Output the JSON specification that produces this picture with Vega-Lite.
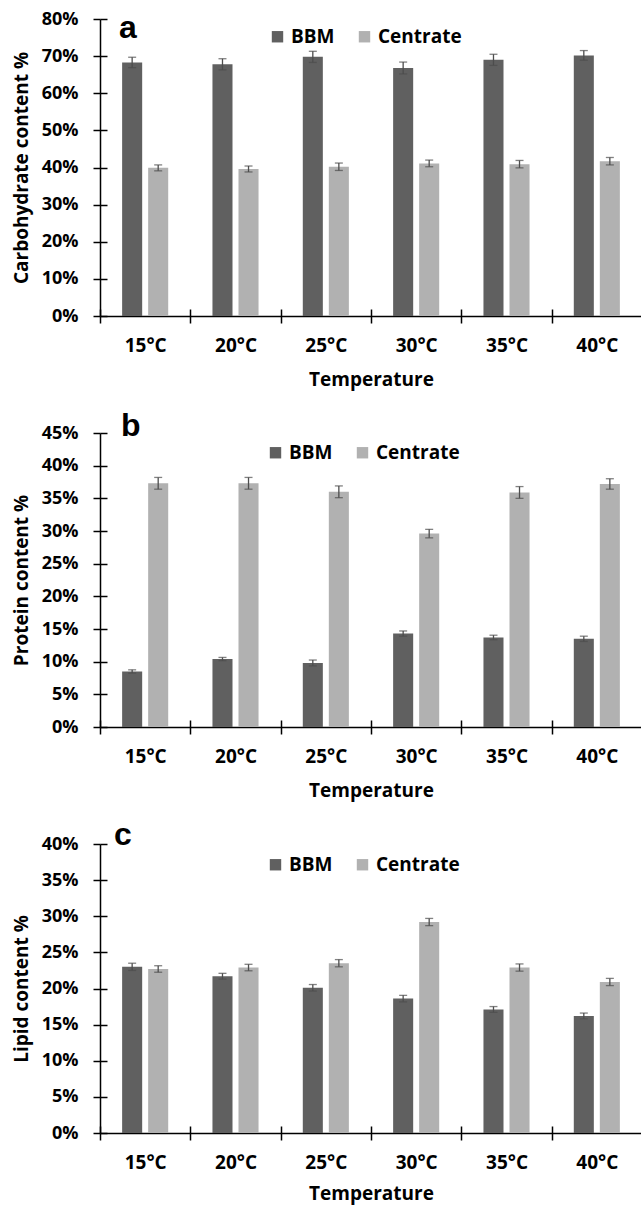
{
  "$schema": "https://vega.github.io/schema/vega-lite/v6.json",
  "padding": {"left": 12, "top": 10, "right": 0, "bottom": 6},
  "bounds": "flush",
  "spacing": 117,
  "config": {
    "view": {"stroke": null},
    "font": "Open Sans",
    "axis": {
      "grid": false,
      "domainColor": "black",
      "domainWidth": 1.5,
      "tickColor": "black",
      "tickWidth": 1.5,
      "tickSize": 7,
      "labelFont": "Open Sans",
      "labelFontWeight": "bold",
      "labelColor": "black",
      "titleFont": "Open Sans",
      "titleFontWeight": "bold",
      "titleColor": "black",
      "titleFontSize": 19
    },
    "axisY": {"labelFontSize": 18, "labelPadding": 15, "titlePadding": 10},
    "axisX": {"labelFontSize": 19, "labelPadding": 13, "titlePadding": 15, "labelAngle": 0},
    "legend": {
      "orient": "none",
      "direction": "horizontal",
      "symbolType": "square",
      "symbolSize": 130,
      "symbolStrokeWidth": 0,
      "labelFont": "Open Sans",
      "labelFontSize": 19,
      "labelFontWeight": "bold",
      "labelColor": "black",
      "columnPadding": 20,
      "labelOffset": 4,
      "padding": 0
    },
    "title": {
      "font": "Liberation Sans",
      "fontSize": 32,
      "fontWeight": "bold",
      "color": "black",
      "anchor": "start",
      "frame": "group",
      "baseline": "alphabetic",
      "offset": 0
    }
  },
  "resolve": {"scale": {"color": "independent"}, "legend": {"color": "independent"}},
  "datasets": {
    "carb": [
      {"temp": "15°C", "medium": "BBM", "value": 68.3, "lo": 66.9, "hi": 69.7},
      {"temp": "15°C", "medium": "Centrate", "value": 39.9, "lo": 39.1, "hi": 40.7},
      {"temp": "20°C", "medium": "BBM", "value": 67.8, "lo": 66.3, "hi": 69.3},
      {"temp": "20°C", "medium": "Centrate", "value": 39.6, "lo": 38.8, "hi": 40.4},
      {"temp": "25°C", "medium": "BBM", "value": 69.8, "lo": 68.3, "hi": 71.3},
      {"temp": "25°C", "medium": "Centrate", "value": 40.2, "lo": 39.2, "hi": 41.2},
      {"temp": "30°C", "medium": "BBM", "value": 66.8, "lo": 65.2, "hi": 68.4},
      {"temp": "30°C", "medium": "Centrate", "value": 41.1, "lo": 40.2, "hi": 42.0},
      {"temp": "35°C", "medium": "BBM", "value": 69.0, "lo": 67.5, "hi": 70.5},
      {"temp": "35°C", "medium": "Centrate", "value": 40.9, "lo": 39.9, "hi": 41.9},
      {"temp": "40°C", "medium": "BBM", "value": 70.2, "lo": 68.9, "hi": 71.5},
      {"temp": "40°C", "medium": "Centrate", "value": 41.7, "lo": 40.7, "hi": 42.7}
    ],
    "prot": [
      {"temp": "15°C", "medium": "BBM", "value": 8.5, "lo": 8.25, "hi": 8.75},
      {"temp": "15°C", "medium": "Centrate", "value": 37.3, "lo": 36.4, "hi": 38.2},
      {"temp": "20°C", "medium": "BBM", "value": 10.4, "lo": 10.15, "hi": 10.65},
      {"temp": "20°C", "medium": "Centrate", "value": 37.3, "lo": 36.4, "hi": 38.2},
      {"temp": "25°C", "medium": "BBM", "value": 9.8, "lo": 9.35, "hi": 10.25},
      {"temp": "25°C", "medium": "Centrate", "value": 36.0, "lo": 35.1, "hi": 36.9},
      {"temp": "30°C", "medium": "BBM", "value": 14.3, "lo": 13.9, "hi": 14.7},
      {"temp": "30°C", "medium": "Centrate", "value": 29.6, "lo": 28.95, "hi": 30.25},
      {"temp": "35°C", "medium": "BBM", "value": 13.7, "lo": 13.35, "hi": 14.05},
      {"temp": "35°C", "medium": "Centrate", "value": 35.9, "lo": 35.0, "hi": 36.8},
      {"temp": "40°C", "medium": "BBM", "value": 13.5, "lo": 13.1, "hi": 13.9},
      {"temp": "40°C", "medium": "Centrate", "value": 37.2, "lo": 36.4, "hi": 38.0}
    ],
    "lipid": [
      {"temp": "15°C", "medium": "BBM", "value": 23.0, "lo": 22.5, "hi": 23.5},
      {"temp": "15°C", "medium": "Centrate", "value": 22.7, "lo": 22.25, "hi": 23.15},
      {"temp": "20°C", "medium": "BBM", "value": 21.7, "lo": 21.3, "hi": 22.1},
      {"temp": "20°C", "medium": "Centrate", "value": 22.9, "lo": 22.45, "hi": 23.35},
      {"temp": "25°C", "medium": "BBM", "value": 20.1, "lo": 19.65, "hi": 20.55},
      {"temp": "25°C", "medium": "Centrate", "value": 23.5, "lo": 23.0, "hi": 24.0},
      {"temp": "30°C", "medium": "BBM", "value": 18.6, "lo": 18.15, "hi": 19.05},
      {"temp": "30°C", "medium": "Centrate", "value": 29.2, "lo": 28.7, "hi": 29.7},
      {"temp": "35°C", "medium": "BBM", "value": 17.1, "lo": 16.7, "hi": 17.5},
      {"temp": "35°C", "medium": "Centrate", "value": 22.9, "lo": 22.4, "hi": 23.4},
      {"temp": "40°C", "medium": "BBM", "value": 16.2, "lo": 15.8, "hi": 16.6},
      {"temp": "40°C", "medium": "Centrate", "value": 20.9, "lo": 20.4, "hi": 21.4}
    ]
  },
  "vconcat": [
    {
      "width": 542,
      "height": 297,
      "data": {"name": "carb"},
      "title": {"text": "a", "dx": 19, "dy": 39},
      "encoding": {
        "xOffset": {"field": "medium", "type": "nominal", "sort": ["BBM", "Centrate"], "scale": {"paddingInner": 0.23, "paddingOuter": 0.85}}
      },
      "layer": [
        {
          "mark": {"type": "bar"},
          "encoding": {
            "x": {"field": "temp", "type": "nominal", "sort": ["15°C", "20°C", "25°C", "30°C", "35°C", "40°C"], "scale": {"paddingInner": 0, "paddingOuter": 0}, "axis": {"orient": "bottom", "tickBand": "extent", "title": "Temperature"}},
            "y": {"field": "value", "type": "quantitative", "scale": {"domain": [0, 80]}, "axis": {"orient": "left", "values": [0, 10, 20, 30, 40, 50, 60, 70, 80], "labelExpr": "datum.value + '%'", "title": "Carbohydrate content %"}},
            "color": {"field": "medium", "type": "nominal", "scale": {"domain": ["BBM", "Centrate"], "range": ["#606060", "#b1b1b1"]}, "legend": {"title": null, "legendX": 168, "legendY": 8}}
          }
        },
        {
          "mark": {"type": "rule", "color": "#4d4d4d", "strokeWidth": 1.3},
          "encoding": {
            "x": {"field": "temp", "type": "nominal", "sort": ["15°C", "20°C", "25°C", "30°C", "35°C", "40°C"], "axis": {"orient": "bottom", "offset": -7, "tickBand": "extent", "labels": false, "domain": false, "title": null}},
            "y": {"field": "lo", "type": "quantitative", "axis": {"orient": "left", "offset": -7, "values": [0, 10, 20, 30, 40, 50, 60, 70, 80], "labels": false, "domain": false, "title": null}},
            "y2": {"field": "hi"}
          }
        },
        {
          "mark": {"type": "tick", "color": "#4d4d4d", "size": 8, "thickness": 1.3},
          "encoding": {
            "x": {"field": "temp", "type": "nominal", "sort": ["15°C", "20°C", "25°C", "30°C", "35°C", "40°C"], "axis": null},
            "y": {"field": "lo", "type": "quantitative", "axis": null}
          }
        },
        {
          "mark": {"type": "tick", "color": "#4d4d4d", "size": 8, "thickness": 1.3},
          "encoding": {
            "x": {"field": "temp", "type": "nominal", "sort": ["15°C", "20°C", "25°C", "30°C", "35°C", "40°C"], "axis": null},
            "y": {"field": "hi", "type": "quantitative", "axis": null}
          }
        }
      ],
      "resolve": {"axis": {"x": "independent", "y": "independent"}}
    },
    {
      "width": 542,
      "height": 294,
      "data": {"name": "prot"},
      "title": {"text": "b", "dx": 21, "dy": 23},
      "encoding": {
        "xOffset": {"field": "medium", "type": "nominal", "sort": ["BBM", "Centrate"], "scale": {"paddingInner": 0.23, "paddingOuter": 0.85}}
      },
      "layer": [
        {
          "mark": {"type": "bar"},
          "encoding": {
            "x": {"field": "temp", "type": "nominal", "sort": ["15°C", "20°C", "25°C", "30°C", "35°C", "40°C"], "scale": {"paddingInner": 0, "paddingOuter": 0}, "axis": {"orient": "bottom", "tickBand": "extent", "title": "Temperature"}},
            "y": {"field": "value", "type": "quantitative", "scale": {"domain": [0, 45]}, "axis": {"orient": "left", "values": [0, 5, 10, 15, 20, 25, 30, 35, 40, 45], "labelExpr": "datum.value + '%'", "title": "Protein content %"}},
            "color": {"field": "medium", "type": "nominal", "scale": {"domain": ["BBM", "Centrate"], "range": ["#606060", "#b1b1b1"]}, "legend": {"title": null, "legendX": 166, "legendY": 10}}
          }
        },
        {
          "mark": {"type": "rule", "color": "#4d4d4d", "strokeWidth": 1.3},
          "encoding": {
            "x": {"field": "temp", "type": "nominal", "sort": ["15°C", "20°C", "25°C", "30°C", "35°C", "40°C"], "axis": {"orient": "bottom", "offset": -7, "tickBand": "extent", "labels": false, "domain": false, "title": null}},
            "y": {"field": "lo", "type": "quantitative", "axis": {"orient": "left", "offset": -7, "values": [0, 5, 10, 15, 20, 25, 30, 35, 40, 45], "labels": false, "domain": false, "title": null}},
            "y2": {"field": "hi"}
          }
        },
        {
          "mark": {"type": "tick", "color": "#4d4d4d", "size": 8, "thickness": 1.3},
          "encoding": {
            "x": {"field": "temp", "type": "nominal", "sort": ["15°C", "20°C", "25°C", "30°C", "35°C", "40°C"], "axis": null},
            "y": {"field": "lo", "type": "quantitative", "axis": null}
          }
        },
        {
          "mark": {"type": "tick", "color": "#4d4d4d", "size": 8, "thickness": 1.3},
          "encoding": {
            "x": {"field": "temp", "type": "nominal", "sort": ["15°C", "20°C", "25°C", "30°C", "35°C", "40°C"], "axis": null},
            "y": {"field": "hi", "type": "quantitative", "axis": null}
          }
        }
      ],
      "resolve": {"axis": {"x": "independent", "y": "independent"}}
    },
    {
      "width": 542,
      "height": 289,
      "data": {"name": "lipid"},
      "title": {"text": "c", "dx": 14, "dy": 21},
      "encoding": {
        "xOffset": {"field": "medium", "type": "nominal", "sort": ["BBM", "Centrate"], "scale": {"paddingInner": 0.23, "paddingOuter": 0.85}}
      },
      "layer": [
        {
          "mark": {"type": "bar"},
          "encoding": {
            "x": {"field": "temp", "type": "nominal", "sort": ["15°C", "20°C", "25°C", "30°C", "35°C", "40°C"], "scale": {"paddingInner": 0, "paddingOuter": 0}, "axis": {"orient": "bottom", "tickBand": "extent", "title": "Temperature", "titlePadding": 12}},
            "y": {"field": "value", "type": "quantitative", "scale": {"domain": [0, 40]}, "axis": {"orient": "left", "values": [0, 5, 10, 15, 20, 25, 30, 35, 40], "labelExpr": "datum.value + '%'", "title": "Lipid content %"}},
            "color": {"field": "medium", "type": "nominal", "scale": {"domain": ["BBM", "Centrate"], "range": ["#606060", "#b1b1b1"]}, "legend": {"title": null, "legendX": 166, "legendY": 11}}
          }
        },
        {
          "mark": {"type": "rule", "color": "#4d4d4d", "strokeWidth": 1.3},
          "encoding": {
            "x": {"field": "temp", "type": "nominal", "sort": ["15°C", "20°C", "25°C", "30°C", "35°C", "40°C"], "axis": {"orient": "bottom", "offset": -7, "tickBand": "extent", "labels": false, "domain": false, "title": null}},
            "y": {"field": "lo", "type": "quantitative", "axis": {"orient": "left", "offset": -7, "values": [0, 5, 10, 15, 20, 25, 30, 35, 40], "labels": false, "domain": false, "title": null}},
            "y2": {"field": "hi"}
          }
        },
        {
          "mark": {"type": "tick", "color": "#4d4d4d", "size": 8, "thickness": 1.3},
          "encoding": {
            "x": {"field": "temp", "type": "nominal", "sort": ["15°C", "20°C", "25°C", "30°C", "35°C", "40°C"], "axis": null},
            "y": {"field": "lo", "type": "quantitative", "axis": null}
          }
        },
        {
          "mark": {"type": "tick", "color": "#4d4d4d", "size": 8, "thickness": 1.3},
          "encoding": {
            "x": {"field": "temp", "type": "nominal", "sort": ["15°C", "20°C", "25°C", "30°C", "35°C", "40°C"], "axis": null},
            "y": {"field": "hi", "type": "quantitative", "axis": null}
          }
        }
      ],
      "resolve": {"axis": {"x": "independent", "y": "independent"}}
    }
  ]
}
